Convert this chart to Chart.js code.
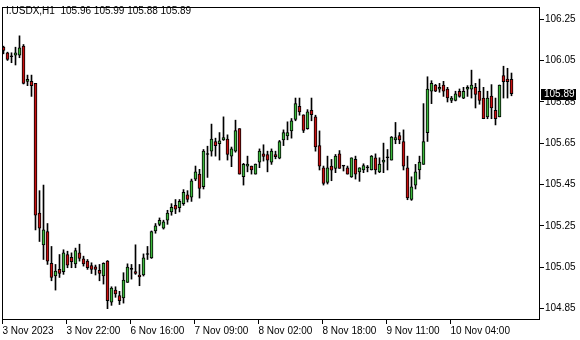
<!DOCTYPE html>
<html>
<head>
<meta charset="utf-8">
<script src="https://cdn.jsdelivr.net/npm/chart.js@4.4.0/dist/chart.umd.min.js"></script>
<style>
    html, body { margin: 0; padding: 0; background: #fff; }
    #chart { display: block; }
</style>
</head>
<body>
<canvas id="chart" width="580" height="340"></canvas>
<script>
// I.USDX H1 - velas
const symbolName = 'I.USDX,H1';

const opens = [
    106.115, 106.088, 106.069, 106.077, 106.077, 106.120, 105.950, 105.950, 105.940, 105.313,
    105.159, 105.223, 105.069, 105.008, 105.040, 105.029, 105.112, 105.099, 105.067, 105.120,
    105.091, 105.080, 105.059, 105.053, 105.036, 105.008, 105.080, 104.882, 104.940, 104.913,
    104.902, 104.977, 105.040, 105.029, 105.013, 105.013, 105.112, 105.096, 105.226, 105.258,
    105.239, 105.278, 105.318, 105.350, 105.339, 105.358, 105.401, 105.389, 105.477, 105.501,
    105.440, 105.596, 105.612, 105.659, 105.648, 105.667, 105.670, 105.588, 105.612, 105.721,
    105.489, 105.540, 105.540, 105.501, 105.559, 105.599, 105.596, 105.559, 105.596, 105.578,
    105.667, 105.686, 105.710, 105.766, 105.829, 105.788, 105.721, 105.810, 105.778, 105.639,
    105.531, 105.461, 105.540, 105.529, 105.599, 105.540, 105.532, 105.488, 105.572, 105.512,
    105.521, 105.532, 105.521, 105.580, 105.512, 105.559, 105.580, 105.569, 105.667, 105.688,
    105.659, 105.531, 105.378, 105.448, 105.521, 105.548, 105.702, 105.902, 105.932, 105.912,
    105.932, 105.912, 105.858, 105.858, 105.902, 105.869, 105.912, 105.912, 105.921, 105.902,
    105.869, 105.778, 105.878, 105.810, 105.778, 105.978, 105.961, 105.960
];
const highs = [
    106.120, 106.091, 106.088, 106.115, 106.170, 106.128, 105.980, 105.980, 105.940, 105.421,
    105.448, 105.262, 105.151, 105.064, 105.112, 105.135, 105.128, 105.120, 105.143, 105.162,
    105.104, 105.088, 105.072, 105.061, 105.064, 105.072, 105.083, 104.956, 104.956, 104.934,
    105.024, 105.067, 105.064, 105.159, 105.064, 105.115, 105.151, 105.226, 105.262, 105.289,
    105.278, 105.326, 105.358, 105.378, 105.378, 105.426, 105.421, 105.477, 105.540, 105.524,
    105.620, 105.636, 105.743, 105.675, 105.702, 105.778, 105.691, 105.632, 105.762, 105.721,
    105.553, 105.588, 105.540, 105.550, 105.623, 105.643, 105.612, 105.623, 105.612, 105.664,
    105.715, 105.754, 105.770, 105.869, 105.869, 105.788, 105.813, 105.869, 105.786, 105.710,
    105.540, 105.588, 105.572, 105.596, 105.615, 105.540, 105.540, 105.580, 105.588, 105.532,
    105.551, 105.543, 105.591, 105.599, 105.580, 105.651, 105.620, 105.683, 105.751, 105.702,
    105.715, 105.588, 105.488, 105.548, 105.588, 105.842, 105.972, 105.953, 105.935, 105.940,
    105.950, 105.921, 105.877, 105.902, 105.913, 105.921, 105.929, 106.004, 105.940, 105.961,
    105.921, 105.902, 105.934, 105.869, 105.932, 106.023, 106.013, 105.990
];
const lows = [
    106.083, 106.051, 106.040, 106.029, 106.064, 105.937, 105.929, 105.877, 105.231, 105.175,
    105.088, 105.064, 104.985, 104.940, 105.001, 105.016, 105.048, 105.048, 105.048, 105.080,
    105.056, 105.040, 105.020, 105.013, 104.985, 104.969, 104.850, 104.866, 104.905, 104.870,
    104.877, 104.977, 104.993, 105.016, 104.961, 105.008, 105.088, 105.093, 105.215, 105.251,
    105.235, 105.258, 105.302, 105.310, 105.318, 105.350, 105.366, 105.369, 105.469, 105.385,
    105.429, 105.485, 105.588, 105.588, 105.569, 105.664, 105.569, 105.537, 105.607, 105.501,
    105.448, 105.512, 105.501, 105.501, 105.532, 105.564, 105.512, 105.548, 105.575, 105.575,
    105.639, 105.667, 105.675, 105.759, 105.786, 105.702, 105.718, 105.759, 105.612, 105.521,
    105.448, 105.453, 105.469, 105.508, 105.529, 105.516, 105.501, 105.485, 105.477, 105.466,
    105.508, 105.512, 105.521, 105.501, 105.508, 105.508, 105.521, 105.569, 105.648, 105.648,
    105.521, 105.377, 105.374, 105.429, 105.477, 105.548, 105.659, 105.842, 105.900, 105.897,
    105.877, 105.850, 105.847, 105.855, 105.873, 105.866, 105.877, 105.869, 105.821, 105.839,
    105.769, 105.769, 105.769, 105.739, 105.778, 105.869, 105.869, 105.880
];
const closes = [
    106.099, 106.056, 106.069, 106.088, 106.112, 105.940, 105.959, 105.929, 105.302, 105.239,
    105.231, 105.080, 105.001, 105.032, 105.020, 105.120, 105.061, 105.077, 105.131, 105.093,
    105.067, 105.048, 105.040, 105.040, 105.021, 105.069, 104.889, 104.950, 104.921, 104.889,
    104.988, 105.051, 105.040, 105.020, 105.004, 105.096, 105.112, 105.223, 105.251, 105.278,
    105.270, 105.313, 105.340, 105.331, 105.369, 105.413, 105.378, 105.469, 105.512, 105.432,
    105.612, 105.596, 105.670, 105.639, 105.662, 105.678, 105.596, 105.623, 105.712, 105.501,
    105.548, 105.550, 105.521, 105.550, 105.612, 105.586, 105.569, 105.612, 105.585, 105.659,
    105.702, 105.702, 105.759, 105.842, 105.802, 105.712, 105.802, 105.789, 105.632, 105.540,
    105.456, 105.531, 105.520, 105.588, 105.529, 105.540, 105.501, 105.580, 105.501, 105.532,
    105.542, 105.532, 105.588, 105.521, 105.550, 105.569, 105.580, 105.680, 105.678, 105.667,
    105.540, 105.386, 105.440, 105.512, 105.559, 105.659, 105.912, 105.940, 105.902, 105.921,
    105.902, 105.870, 105.869, 105.889, 105.877, 105.902, 105.921, 105.932, 105.886, 105.858,
    105.769, 105.869, 105.821, 105.769, 105.932, 105.948, 105.948, 105.890
];

// etiquetas de tiempo (posicion en numero de vela)
const timeTickBars = [-0.25, 15.75, 31.75, 47.75, 63.75, 79.75, 95.75, 111.75];
const timeTickLabels = ['3 Nov 2023', '3 Nov 22:00', '6 Nov 16:00', '7 Nov 09:00',
    '8 Nov 02:00', '8 Nov 18:00', '9 Nov 11:00', '10 Nov 04:00'];
const priceTicks = [104.85, 105.05, 105.25, 105.45, 105.65, 105.85, 106.05, 106.25];

const fontFamily = "'Liberation Sans', Arial, sans-serif";
const bullColor = '#3cb83c';
const bearColor = '#c81010';

let wickData = [];
let bodyData = [];
let bodyColors = [];
for (let i = 0; i < opens.length; i++) {
    wickData.push({ x: i, y: [lows[i], highs[i]] });
    bodyData.push({ x: i, y: [opens[i], closes[i]] });
    if (closes[i] > opens[i]) bodyColors.push(bullColor);
    else if (closes[i] < opens[i]) bodyColors.push(bearColor);
    else bodyColors.push('#000');
}

// marco, titulo y precio actual
const mtPlugin = {
    id: 'mtDecor',
    afterDraw(chart) {
        const ctx = chart.ctx;
        const area = chart.chartArea;
        ctx.save();
        ctx.strokeStyle = '#000';
        ctx.lineWidth = 1;
        ctx.strokeRect(area.left + 0.5, area.top + 0.5, area.right - area.left - 1, area.bottom - area.top - 1);

        ctx.font = '10px ' + fontFamily;
        ctx.fillStyle = '#000';
        ctx.textBaseline = 'middle';
        ctx.textAlign = 'left';
        let last = opens.length - 1;
        let title = symbolName + '  ' + [opens[last], highs[last], lows[last], closes[last]].map(v => v.toFixed(2)).join(' ');
        ctx.fillText(title, 6, 11);

        let py = Math.round(chart.scales.y.getPixelForValue(closes[last]));
        ctx.fillStyle = '#000';
        ctx.fillRect(541, py - 5, 35, 11);
        ctx.fillStyle = '#fff';
        ctx.fillText(closes[last].toFixed(2), 544, py + 0.5);
        ctx.restore();
    }
};

let chartEl = document.getElementById('chart');
let chart = new Chart(chartEl, {
    type: 'bar',
    data: {
        datasets: [
            {
                label: 'body',
                data: bodyData,
                backgroundColor: bodyColors,
                borderColor: '#000',
                borderWidth: 1,
                borderSkipped: false,
                barThickness: 3,
                minBarLength: 1,
                grouped: false,
                order: 1
            },
            {
                label: 'wick',
                data: wickData,
                backgroundColor: '#000',
                borderWidth: 0,
                barThickness: 1,
                grouped: false,
                order: 2
            }
        ]
    },
    options: {
        responsive: false,
        animation: false,
        events: [],
        layout: { padding: { left: 2, top: 2, right: 0, bottom: 0 } },
        plugins: {
            legend: { display: false },
            tooltip: { enabled: false },
            title: { display: false }
        },
        scales: {
            x: {
                type: 'linear',
                offset: false,
                min: -0.375,
                max: 134.125,
                border: { display: false },
                grid: { offset: false, drawOnChartArea: false, drawTicks: true, tickLength: 4, color: '#000' },
                afterBuildTicks: scale => { scale.ticks = timeTickBars.map(v => ({ value: v })); },
                afterFit: scale => { scale.height = 20; },
                ticks: {
                    autoSkip: false,
                    maxRotation: 0,
                    align: 'start',
                    padding: 1,
                    color: '#000',
                    font: { family: fontFamily, size: 10 },
                    callback: (value, index) => timeTickLabels[index]
                }
            },
            y: {
                position: 'right',
                min: 104.7952,
                max: 106.3095,
                border: { display: false },
                grid: { drawOnChartArea: false, drawTicks: true, tickLength: 4, color: '#000' },
                afterBuildTicks: scale => { scale.ticks = priceTicks.map(v => ({ value: v })); },
                afterFit: scale => { scale.width = 40; },
                ticks: {
                    padding: 1,
                    color: '#000',
                    font: { family: fontFamily, size: 10 },
                    callback: value => Number(value).toFixed(2)
                }
            }
        }
    },
    plugins: [mtPlugin]
});
</script>
</body>
</html>
